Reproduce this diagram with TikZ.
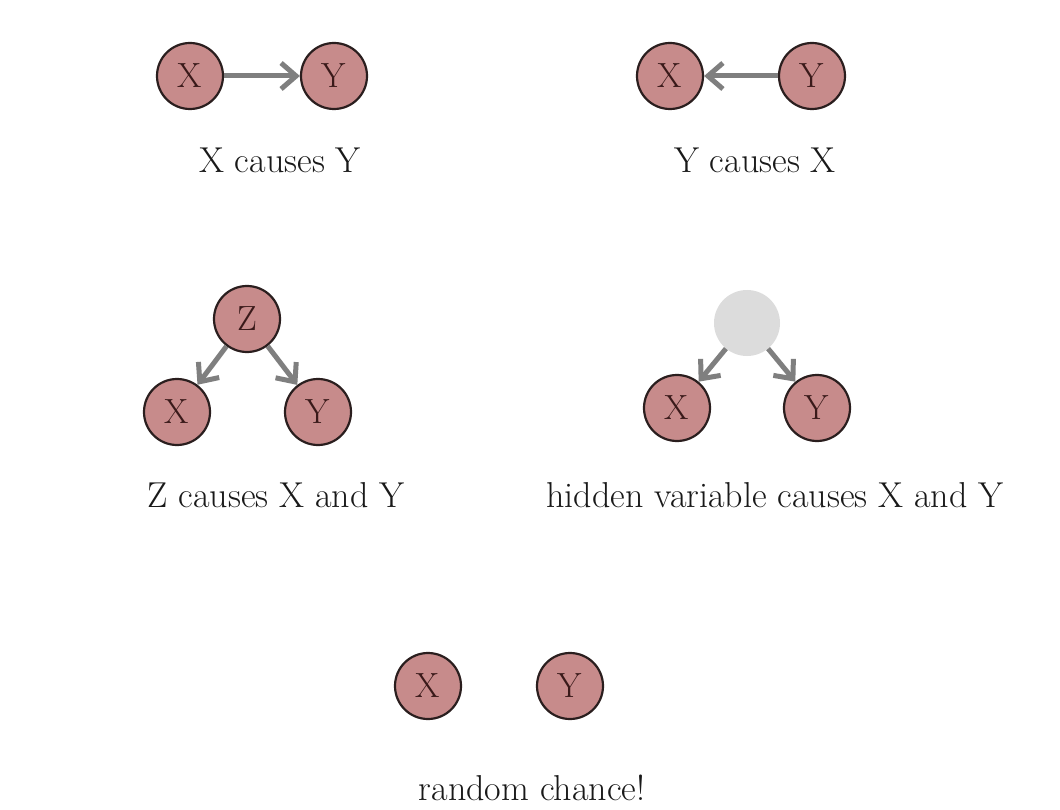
\documentclass[tikz,border=0pt]{standalone}
\usetikzlibrary{arrows.meta}
\definecolor{nodefill}{HTML}{C78B8B}
\definecolor{nodeline}{HTML}{2A1E1E}
\definecolor{arrowgray}{HTML}{7F7F7F}
\definecolor{hiddenfill}{HTML}{DCDCDC}
\definecolor{lettercol}{HTML}{3A1A1A}
\begin{document}
\begin{tikzpicture}[x=1pt,y=-1pt,
  var/.style={circle, fill=nodefill, draw=nodeline, line width=2.2pt, minimum size=66pt, inner sep=0pt, font=\fontsize{35}{35}\selectfont, text=lettercol},
  hidvar/.style={circle, fill=hiddenfill, minimum size=66pt, inner sep=0pt},
  caption/.style={font=\fontsize{36}{40}\selectfont, text=black!90},
  arr/.style={draw=arrowgray, line width=5pt, -{Straight Barb[length=15pt,width=26pt]}}]
\useasboundingbox[fill=white] (0,0) rectangle (1060,810);
% panel 1
\node[var] (x1) at (190,76) {X};
\node[var] (y1) at (334,76) {Y};
\draw[arr] (x1) -- (y1);
\node[caption] (c1) at (280,160) {X causes Y};
% panel 2
\node[var] (x2) at (670,76) {X};
\node[var] (y2) at (812,76) {Y};
\draw[arr] (y2) -- (x2);
\node[caption] (c2) at (755,160) {Y causes X};
% panel 3
\node[var] (z3) at (247,319) {Z};
\node[var] (x3) at (177,412) {X};
\node[var] (y3) at (318,412) {Y};
\draw[arr] (z3) -- (x3);
\draw[arr] (z3) -- (y3);
\node[caption] (c3) at (276,495) {Z causes X and Y};
% panel 4
\node[hidvar] (h4) at (747,323) {};
\node[var] (x4) at (677,408) {X};
\node[var] (y4) at (817,408) {Y};
\draw[arr] (h4) -- (x4);
\draw[arr] (h4) -- (y4);
\node[caption] (c4) at (775,495) {hidden variable causes X and Y};
% panel 5
\node[var] (x5) at (428,686) {X};
\node[var] (y5) at (570,686) {Y};
\node[caption] (c5) at (532,788) {random chance!};
\end{tikzpicture}
\end{document}
